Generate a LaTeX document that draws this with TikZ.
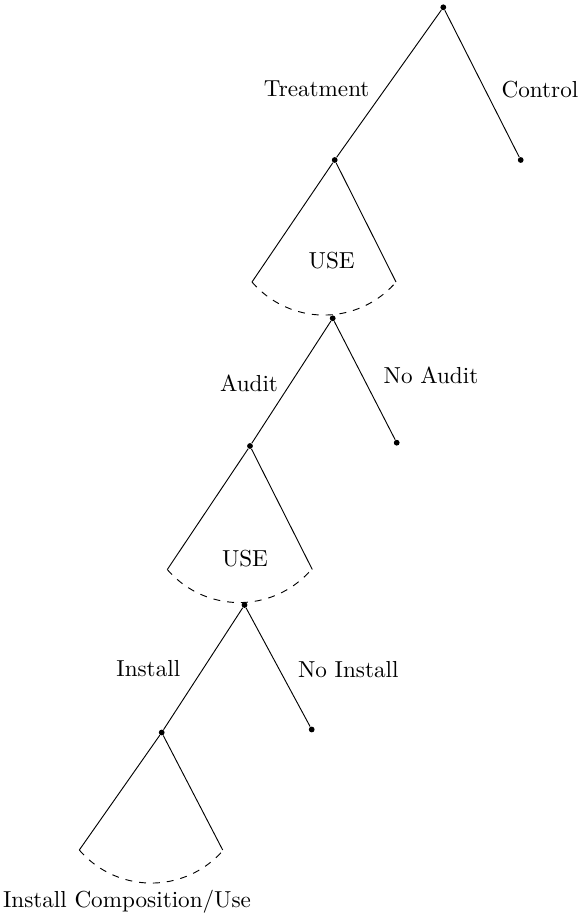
\documentclass[tikz,border=0pt]{standalone}
\begin{document}
\begin{tikzpicture}[x=0.432pt,y=0.432pt,
  dotnode/.style={circle,fill=black,inner sep=0pt,minimum size=2.5pt},
  lbl/.style={inner sep=0pt},
  conearc/.style={dashed}]
\useasboundingbox (0,0) rectangle (583,-917);
% decision nodes
\node[dotnode] (r)  at (443.3,-7.3) {};
\node[dotnode] (t)  at (334.7,-160) {};
\node[dotnode] (c)  at (520.7,-160) {};
\node[dotnode] (a)  at (332.7,-318.3) {};
\node[dotnode] (au) at (250,-446) {};
\node[dotnode] (na) at (396.7,-442.7) {};
\node[dotnode] (i)  at (244.5,-605) {};
\node[dotnode] (in) at (161.7,-732.5) {};
\node[dotnode] (ni) at (311.7,-729.5) {};
% cone corners
\coordinate (c1l) at (252,-282);
\coordinate (c1r) at (396,-282);
\coordinate (c2l) at (167.3,-569.5);
\coordinate (c2r) at (312.3,-569.5);
\coordinate (c3l) at (79.3,-850);
\coordinate (c3r) at (222.7,-850);
% branches
\draw (r) -- (t);
\draw (r) -- (c);
\draw (t) -- (c1l);
\draw (t) -- (c1r);
\draw[conearc] (c1l) arc[start angle=220.7,end angle=319.3,radius=95];
\draw (a) -- (au);
\draw (a) -- (na);
\draw (au) -- (c2l);
\draw (au) -- (c2r);
\draw[conearc] (c2l) arc[start angle=220.7,end angle=319.3,radius=95];
\draw (i) -- (in);
\draw (i) -- (ni);
\draw (in) -- (c3l);
\draw (in) -- (c3r);
\draw[conearc] (c3l) arc[start angle=220.7,end angle=319.3,radius=95];
% labels
\node[lbl] (lt)  at (316.7,-88.3) {Treatment};
\node[lbl] (lc)  at (540,-90) {Control};
\node[lbl] (lu1) at (331.7,-260.7) {USE};
\node[lbl] (la)  at (249,-383.3) {Audit};
\node[lbl] (lna) at (431,-375) {No Audit};
\node[lbl] (lu2) at (245,-558.3) {USE};
\node[lbl] (li)  at (148.3,-668.3) {Install};
\node[lbl] (lni) at (348.3,-670) {No Install};
\node[lbl] (lic) at (127,-902) {Install Composition/Use};
\end{tikzpicture}
\end{document}
